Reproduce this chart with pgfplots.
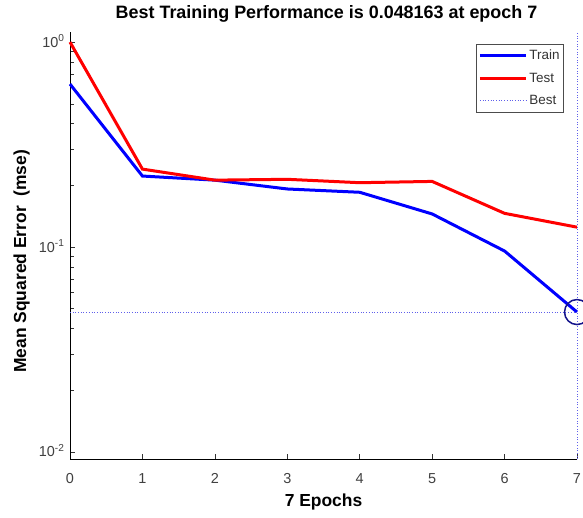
\documentclass[border=0pt]{standalone}
\usepackage{fontspec}
\setmainfont{Liberation Sans}
\usepackage{pgfplots}
\pgfplotsset{compat=1.18}
\definecolor{bestc}{RGB}{95,95,235}
\definecolor{navyc}{RGB}{20,20,140}
\begin{document}
\begin{tikzpicture}
\begin{axis}[
  scale only axis, width=507bp, height=427bp,
  ymode=log, xmin=0, xmax=7, ymin=0.00924, ymax=1.12,
  axis x line=bottom, axis y line=left,
  axis line style={-, black, line width=0.6bp},
  clip=false,
  xtick={0,...,7},
  ytick={0.01,0.1,1},
  yticklabels={10\textsuperscript{-2},10\textsuperscript{-1},10\textsuperscript{0}},
  tick align=inside, major tick length=5bp, minor tick length=4bp,
  tick style={black!80, line width=0.5bp},
  /pgf/number format/assume math mode=true,
  ticklabel style={font=\fontsize{14.5}{15}\selectfont, text=black!75},
  xticklabel style={anchor=base, yshift=-24bp},
  yticklabel style={anchor=base east, xshift=-2bp, yshift=-5bp},
  title={Best Training Performance is 0.048163 at epoch 7},
  title style={at={(axis description cs:0.5,1)}, anchor=base, yshift=8bp, xshift=3bp, font=\bfseries\fontsize{18}{19}\selectfont},
  xlabel={7 Epochs},
  xlabel style={at={(axis description cs:0.5,0)}, anchor=base, yshift=-47bp, font=\bfseries\fontsize{17.5}{18}\selectfont},
  ylabel={Mean Squared Error\ \ (mse)},
  ylabel style={at={(axis description cs:0,0.463)}, anchor=base, yshift=44bp, font=\bfseries\fontsize{17.5}{18}\selectfont},
  legend style={at={(rel axis cs:0.974,0.972)}, anchor=north east, draw=black!70, line width=0.6bp,
    font=\fontsize{13.5}{14}\selectfont, text=black!80, inner xsep=2bp, inner ysep=4bp, row sep=7.5bp,
    cells={anchor=west}},
  legend image code/.code={\draw[#1] (0bp,0bp) -- (46bp,0bp);},
]
\addplot[blue, line width=3bp] coordinates {(0,0.624)(1,0.222)(2,0.212)(3,0.192)(4,0.185)(5,0.145)(6,0.0956)(7,0.048163)};
\addlegendentry{Train}
\addplot[red, line width=3bp] coordinates {(0,1.0)(1,0.240)(2,0.212)(3,0.214)(4,0.206)(5,0.209)(6,0.146)(7,0.125)};
\addlegendentry{Test}
\addplot[bestc, line width=0.7bp, dotted] coordinates {(0,0.048163)(7,0.048163)};
\addlegendentry{Best}
\addplot[bestc, line width=0.7bp, dotted, forget plot] coordinates {(7,0.00924)(7,1.12)};
\addplot[navyc, only marks, mark=o, mark size=12.5bp, mark options={line width=1.5bp}, forget plot] coordinates {(7,0.048163)};
\coordinate (bb1) at (rel axis cs:-0.13807,-0.13817);
\coordinate (bb2) at (rel axis cs:1.01183,1.07494);
\end{axis}
\pgfresetboundingbox
\path[use as bounding box] (bb1) rectangle (bb2);
\end{tikzpicture}
\end{document}
